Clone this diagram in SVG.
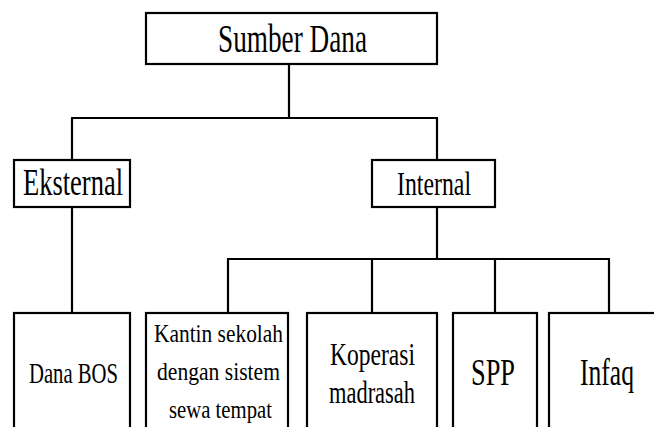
<svg xmlns="http://www.w3.org/2000/svg" width="654" height="427" viewBox="0 0 654 427">
<style>
.box{fill:#fff;stroke:#000;stroke-width:2.2}
.ln{fill:none;stroke:#000;stroke-width:2.2}
.t{fill:#000;font-family:"Times New Roman",Times,"Liberation Serif","DejaVu Serif",serif}
</style>
<rect width="654" height="427" fill="#fff"/>
<g id="connectors" class="ln">
<path d="M289 64V118M71 118H438M72 118V160M437 118V160"/>
<path d="M72 207V313M437 207V259M227 259H610M228 259V313M372 259V313M495 259V313M609 259V313"/>
</g>
<g id="sumber-dana">
<rect class="box" x="146" y="13" width="291" height="51"/>
<text class="t" x="218" y="52" font-size="40" textLength="149" lengthAdjust="spacingAndGlyphs">Sumber Dana</text>
</g>
<g id="eksternal">
<rect class="box" x="14" y="160" width="116" height="47"/>
<text class="t" x="23" y="195" font-size="37" textLength="100" lengthAdjust="spacingAndGlyphs">Eksternal</text>
</g>
<g id="internal">
<rect class="box" x="372" y="160" width="123" height="47"/>
<text class="t" x="397" y="195" font-size="33" textLength="74" lengthAdjust="spacingAndGlyphs">Internal</text>
</g>
<g id="dana-bos">
<rect class="box" x="14" y="313" width="116" height="130"/>
<text class="t" x="29" y="383" font-size="30" textLength="89" lengthAdjust="spacingAndGlyphs">Dana BOS</text>
</g>
<g id="kantin">
<rect class="box" x="146" y="313" width="142" height="130"/>
<text class="t" x="154" y="342" font-size="25" textLength="129" lengthAdjust="spacingAndGlyphs">Kantin sekolah</text>
<text class="t" x="157" y="380" font-size="25" textLength="123" lengthAdjust="spacingAndGlyphs">dengan sistem</text>
<text class="t" x="169" y="418" font-size="25" textLength="103" lengthAdjust="spacingAndGlyphs">sewa tempat</text>
</g>
<g id="koperasi">
<rect class="box" x="307" y="313" width="130" height="130"/>
<text class="t" x="330" y="365" font-size="32" textLength="85" lengthAdjust="spacingAndGlyphs">Koperasi</text>
<text class="t" x="329" y="403" font-size="32" textLength="86" lengthAdjust="spacingAndGlyphs">madrasah</text>
</g>
<g id="spp">
<rect class="box" x="453" y="313" width="84" height="130"/>
<text class="t" x="471" y="385" font-size="37" textLength="44" lengthAdjust="spacingAndGlyphs">SPP</text>
</g>
<g id="infaq">
<rect class="box" x="549" y="313" width="107" height="130"/>
<text class="t" x="580" y="385" font-size="37" textLength="54" lengthAdjust="spacingAndGlyphs">Infaq</text>
</g>
</svg>
